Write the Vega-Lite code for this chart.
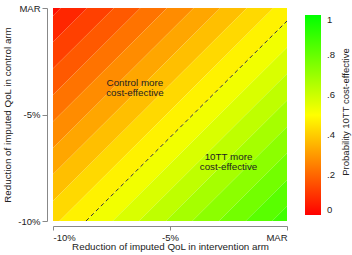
{
  "$schema": "https://vega.github.io/schema/vega-lite/v6.json",
  "width": 234,
  "height": 213,
  "padding": {"left": 2, "top": 3, "right": 0, "bottom": 0},
  "background": "white",
  "config": {
    "view": {"stroke": null},
    "font": "Liberation Sans",
    "axis": {"labelFontSize": 9.5, "titleFontSize": 9.8, "titleFontWeight": "normal", "labelColor": "#222", "titleColor": "#222", "domainColor": "#888", "tickColor": "#888", "grid": false},
    "legend": {"labelFontSize": 9.5, "titleFontSize": 9.5, "titleFontWeight": "normal", "labelColor": "#222", "titleColor": "#222"}
  },
  "datasets": {
    "bands": [
      {"band": 0, "p": 0.025, "x": -10, "yhi": 0.89, "ylo": -0.36},
      {"band": 0, "p": 0.025, "x": 0, "yhi": 11.82, "ylo": 10.58},
      {"band": 1, "p": 0.075, "x": -10, "yhi": -0.36, "ylo": -1.60},
      {"band": 1, "p": 0.075, "x": 0, "yhi": 10.58, "ylo": 9.34},
      {"band": 2, "p": 0.125, "x": -10, "yhi": -1.60, "ylo": -2.84},
      {"band": 2, "p": 0.125, "x": 0, "yhi": 9.34, "ylo": 8.09},
      {"band": 3, "p": 0.175, "x": -10, "yhi": -2.84, "ylo": -4.08},
      {"band": 3, "p": 0.175, "x": 0, "yhi": 8.09, "ylo": 6.85},
      {"band": 4, "p": 0.225, "x": -10, "yhi": -4.08, "ylo": -5.33},
      {"band": 4, "p": 0.225, "x": 0, "yhi": 6.85, "ylo": 5.61},
      {"band": 5, "p": 0.275, "x": -10, "yhi": -5.33, "ylo": -6.57},
      {"band": 5, "p": 0.275, "x": 0, "yhi": 5.61, "ylo": 4.36},
      {"band": 6, "p": 0.325, "x": -10, "yhi": -6.57, "ylo": -7.81},
      {"band": 6, "p": 0.325, "x": 0, "yhi": 4.36, "ylo": 3.12},
      {"band": 7, "p": 0.375, "x": -10, "yhi": -7.81, "ylo": -9.06},
      {"band": 7, "p": 0.375, "x": 0, "yhi": 3.12, "ylo": 1.88},
      {"band": 8, "p": 0.425, "x": -10, "yhi": -9.06, "ylo": -10.30},
      {"band": 8, "p": 0.425, "x": 0, "yhi": 1.88, "ylo": 0.64},
      {"band": 9, "p": 0.475, "x": -10, "yhi": -10.30, "ylo": -11.54},
      {"band": 9, "p": 0.475, "x": 0, "yhi": 0.64, "ylo": -0.61},
      {"band": 10, "p": 0.525, "x": -10, "yhi": -11.54, "ylo": -12.79},
      {"band": 10, "p": 0.525, "x": 0, "yhi": -0.61, "ylo": -1.85},
      {"band": 11, "p": 0.575, "x": -10, "yhi": -12.79, "ylo": -14.03},
      {"band": 11, "p": 0.575, "x": 0, "yhi": -1.85, "ylo": -3.09},
      {"band": 12, "p": 0.625, "x": -10, "yhi": -14.03, "ylo": -15.27},
      {"band": 12, "p": 0.625, "x": 0, "yhi": -3.09, "ylo": -4.34},
      {"band": 13, "p": 0.675, "x": -10, "yhi": -15.27, "ylo": -16.51},
      {"band": 13, "p": 0.675, "x": 0, "yhi": -4.34, "ylo": -5.58},
      {"band": 14, "p": 0.725, "x": -10, "yhi": -16.51, "ylo": -17.76},
      {"band": 14, "p": 0.725, "x": 0, "yhi": -5.58, "ylo": -6.82},
      {"band": 15, "p": 0.775, "x": -10, "yhi": -17.76, "ylo": -19.00},
      {"band": 15, "p": 0.775, "x": 0, "yhi": -6.82, "ylo": -8.07},
      {"band": 16, "p": 0.825, "x": -10, "yhi": -19.00, "ylo": -20.24},
      {"band": 16, "p": 0.825, "x": 0, "yhi": -8.07, "ylo": -9.31},
      {"band": 17, "p": 0.875, "x": -10, "yhi": -20.24, "ylo": -21.49},
      {"band": 17, "p": 0.875, "x": 0, "yhi": -9.31, "ylo": -10.55}
    ],
    "line": [
      {"x": -8.59, "y": -10},
      {"x": 0, "y": -0.61}
    ],
    "labels": [
      {"x": -6.5, "y": -3.5, "text": ["Control more", "cost-effective"]},
      {"x": -2.5, "y": -7.0, "text": ["10TT more", "cost-effective"]}
    ]
  },
  "layer": [
    {
      "data": {"name": "bands"},
      "mark": {"type": "area", "clip": true, "interpolate": "linear"},
      "encoding": {
        "x": {"field": "x", "type": "quantitative", "scale": {"domain": [-10, 0], "nice": false, "zero": false},
              "axis": {"values": [-10, -5, 0], "labelExpr": "datum.value == 0 ? 'MAR' : datum.value + '%'", "title": "Reduction of imputed QoL in intervention arm", "offset": 5, "tickSize": 4, "labelPadding": 2, "titlePadding": 0}},
        "y": {"field": "yhi", "type": "quantitative", "stack": null, "scale": {"domain": [-10, 0], "nice": false, "zero": false},
              "axis": {"values": [-10, -5, 0], "labelExpr": "datum.value == 0 ? 'MAR' : datum.value + '%'", "title": "Reduction of imputed QoL in control arm", "offset": 6, "tickSize": 5, "labelPadding": 2, "titlePadding": 5}},
        "y2": {"field": "ylo"},
        "detail": {"field": "band", "type": "nominal"},
        "color": {"field": "p", "type": "quantitative",
                  "scale": {"domain": [0, 1], "range": ["#ff0000", "#ffff00", "#00ff00"], "interpolate": "rgb"},
                  "legend": {"title": "Probability 10TT cost-effective", "type": "gradient", "direction": "vertical",
                             "gradientLength": 200, "gradientThickness": 16, "values": [0, 0.2, 0.4, 0.6, 0.8, 1],
                             "labelExpr": "datum.value == 0 ? '0' : datum.value == 1 ? '1' : replace(format(datum.value, '.1f'), '0.', '.')",
                             "offset": 11, "padding": 7, "labelOffset": 6, "titleOrient": "right", "titlePadding": 6,
                             "encode": {"title": {"update": {"angle": {"value": 270}, "baseline": {"value": "top"}}}}}}
      }
    },
    {
      "data": {"name": "line"},
      "mark": {"type": "line", "color": "#333", "strokeWidth": 1, "strokeDash": [4, 3]},
      "encoding": {
        "x": {"field": "x", "type": "quantitative"},
        "y": {"field": "y", "type": "quantitative"}
      }
    },
    {
      "data": {"name": "labels"},
      "mark": {"type": "text", "fontSize": 9.8, "color": "#222", "lineHeight": 10, "align": "center", "baseline": "middle"},
      "encoding": {
        "x": {"field": "x", "type": "quantitative"},
        "y": {"field": "y", "type": "quantitative"},
        "text": {"field": "text"}
      }
    }
  ]
}
